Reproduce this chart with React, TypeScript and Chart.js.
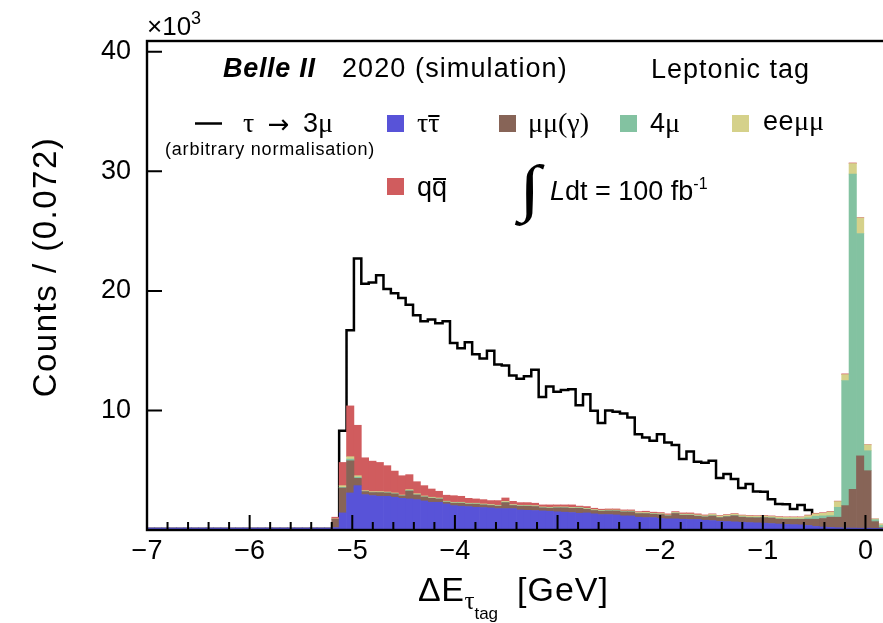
import React, { useEffect, useRef } from 'react';
import { Chart, registerables } from 'chart.js';

Chart.register(...registerables);

// ---------------- data ----------------
const X_MIN = -7;
const X_MAX = 0.2;
const BIN_WIDTH = 0.072;
const Y_MAX = 40.9;

const xMajorTicks = [-7, -6, -5, -4, -3, -2, -1, 0];
const yMajorTicks = [10, 20, 30, 40];

// tau tau-bar (blue)
const tauTau = [
  0.17, 0.17, 0.17, 0.17, 0.17, 0.17, 0.17, 0.17, 0.17, 0.17,
  0.17, 0.17, 0.17, 0.17, 0.17, 0.17, 0.17, 0.17, 0.17, 0.17,
  0.17, 0.17, 0.17, 0.17, 0.17, 0.2, 1.43, 3.1, 3.71, 2.96,
  2.88, 2.82, 2.82, 2.74, 2.65, 2.6, 2.54, 2.43, 2.32, 2.32,
  2.18, 2.04, 1.99, 1.96, 1.9, 1.88, 1.85, 1.79, 1.79, 1.79,
  1.68, 1.65, 1.63, 1.6, 1.57, 1.52, 1.49, 1.46, 1.4, 1.43,
  1.35, 1.29, 1.29, 1.26, 1.18, 1.18, 1.07, 1.04, 1.04, 0.96,
  0.93, 0.93, 0.9, 0.88, 0.88, 0.82, 0.79, 0.72, 0.71, 0.68,
  0.65, 0.62, 0.6, 0.57, 0.54, 0.5, 0.47, 0.45, 0.43, 0.38,
  0.3, 0.25, 0.22, 0.19, 0.17, 0.16, 0.15, 0.15, 0.14, 0.13,
];

// mu mu (gamma) (brown)
const mumuGamma = [
  0, 0, 0, 0, 0, 0, 0, 0, 0, 0,
  0, 0, 0, 0, 0, 0, 0, 0, 0, 0,
  0, 0, 0, 0, 0, 0.7, 2.08, 2.69, 0.61, 0.25,
  0.25, 0.31, 0.28, 0.28, 0.2, 0.66, 0.39, 0.33, 0.33, 0.27,
  0.15, 0.2, 0.25, 0.2, 0.26, 0.22, 0.2, 0.2, 0.5, 0.26,
  0.31, 0.34, 0.33, 0.25, 0.25, 0.33, 0.36, 0.35, 0.42, 0.3,
  0.28, 0.28, 0.3, 0.33, 0.33, 0.33, 0.3, 0.33, 0.28, 0.33,
  0.25, 0.45, 0.33, 0.35, 0.27, 0.27, 0.38, 0.31, 0.4, 0.51,
  0.42, 0.41, 0.42, 0.46, 0.46, 0.41, 0.42, 0.44, 0.46, 0.52,
  0.6, 0.71, 0.85, 0.88, 1.87, 3.24, 6.05, 4.81, 0.56, 0.07,
];

// 4 mu (green)
const fourMu = [
  0, 0, 0, 0, 0, 0, 0, 0, 0, 0,
  0, 0, 0, 0, 0, 0, 0, 0, 0, 0,
  0, 0, 0, 0, 0, 0, 0.06, 0.14, 0.1, 0.03,
  0.03, 0.03, 0.03, 0.03, 0.03, 0.04, 0.03, 0.03, 0.03, 0.03,
  0.03, 0.03, 0.03, 0.03, 0.03, 0.03, 0.03, 0.03, 0.03, 0.03,
  0.03, 0.03, 0.03, 0.03, 0.03, 0.03, 0.03, 0.03, 0.03, 0.03,
  0.03, 0.03, 0.03, 0.03, 0.03, 0.03, 0.03, 0.03, 0.03, 0.03,
  0.03, 0.03, 0.03, 0.03, 0.03, 0.03, 0.03, 0.03, 0.03, 0.03,
  0.03, 0.03, 0.03, 0.03, 0.03, 0.04, 0.04, 0.04, 0.04, 0.12,
  0.25, 0.22, 0.13, 0.83, 10.46, 26.37, 18.6, 1.67, 0.16, 0.17,
];

// ee mu mu (yellow)
const eemumu = [
  0, 0, 0, 0, 0, 0, 0, 0, 0, 0,
  0, 0, 0, 0, 0, 0, 0, 0, 0, 0,
  0, 0, 0, 0, 0, 0.03, 0.14, 0.2, 0.12, 0.05,
  0.05, 0.05, 0.05, 0.05, 0.05, 0.08, 0.08, 0.06, 0.06, 0.06,
  0.05, 0.05, 0.05, 0.05, 0.05, 0.05, 0.05, 0.05, 0.08, 0.05,
  0.05, 0.05, 0.05, 0.05, 0.05, 0.05, 0.05, 0.05, 0.05, 0.05,
  0.05, 0.05, 0.05, 0.05, 0.05, 0.05, 0.06, 0.07, 0.05, 0.05,
  0.05, 0.05, 0.07, 0.07, 0.08, 0.07, 0.1, 0.1, 0.1, 0.1,
  0.1, 0.1, 0.1, 0.1, 0.1, 0.12, 0.12, 0.12, 0.12, 0.18,
  0.2, 0.22, 0.3, 0.475, 0.5, 0.88, 1.3, 0.49, 0.06, 0.13,
];

// q q-bar (red)
const qqbar = [
  0, 0, 0, 0, 0, 0, 0, 0, 0, 0,
  0, 0, 0, 0, 0, 0, 0, 0, 0, 0,
  0, 0, 0, 0, 0, 0.14, 1.94, 4.25, 4.22, 2.75,
  2.55, 2.44, 2.2, 1.83, 1.61, 1.25, 1.0, 0.86, 0.69, 0.56,
  0.5, 0.55, 0.5, 0.41, 0.36, 0.36, 0.33, 0.39, 0.28, 0.27,
  0.22, 0.22, 0.2, 0.17, 0.2, 0.17, 0.17, 0.21, 0.1, 0.15,
  0.11, 0.09, 0.09, 0.09, 0.09, 0.09, 0.08, 0.1, 0.09, 0.09,
  0.09, 0.08, 0.1, 0.1, 0.09, 0.07, 0.05, 0.05, 0.05, 0.05,
  0.05, 0.05, 0.05, 0.05, 0.05, 0.05, 0.05, 0.05, 0.05, 0.05,
  0.05, 0.05, 0.05, 0.04, 0.06, 0.05, 0.03, 0.02, 0.01, 0,
];

// tau -> 3 mu signal (arbitrary normalisation)
const signalTau3Mu = [
  0, 0, 0, 0, 0, 0, 0, 0, 0, 0,
  0, 0, 0, 0, 0, 0, 0, 0, 0, 0,
  0, 0, 0, 0, 0, 0, 8.3, 16.7, 22.7, 20.6,
  20.7, 21.3, 20.15, 19.8, 19.4, 18.85, 17.96, 17.46, 17.6, 17.3,
  17.46, 15.65, 15.2, 15.7, 14.7, 14.35, 15.0, 13.85, 13.76, 12.93,
  12.65, 12.87, 13.4, 11.13, 12.0, 11.57, 11.7, 11.77, 10.43, 11.35,
  9.98, 8.95, 10.0, 9.9, 9.74, 9.4, 8.0, 7.74, 7.46, 8.0,
  7.32, 7.1, 5.93, 6.57, 5.71, 5.63, 5.79, 4.35, 4.68, 4.26,
  3.51, 3.85, 3.23, 3.2, 2.57, 2.18, 2.15, 1.76, 2.1, 1.68,
  1.2, 0, 0, 0, 0, 0, 0, 0, 0, 0,
];

const binLabels = tauTau.map((_, i) => (X_MIN + BIN_WIDTH * (i + 0.5)).toFixed(3));
const signalPoints = signalTau3Mu
  .map((y, i) => ({ x: X_MIN + BIN_WIDTH * i, y }))
  .concat([{ x: X_MAX, y: signalTau3Mu[signalTau3Mu.length - 1] }]);

// ---------------- style ----------------
const SANS = '"Liberation Sans", Arial, Helvetica, sans-serif';
const SERIF = '"Liberation Serif", "Times New Roman", serif';
const ARROW = '"DejaVu Sans", sans-serif';
const C_BLUE = '#5853d8';
const C_BROWN = '#876457';
const C_GREEN = '#83c2a1';
const C_YELLOW = '#d5d18a';
const C_RED = '#d05c5e';

type Run = { text: string; font: string; ls?: number; dy?: number; bar?: [number, number, number] };

function drawRuns(ctx: CanvasRenderingContext2D, x: number, y: number, runs: Run[]) {
  let cx = x;
  for (const r of runs) {
    ctx.font = r.font;
    (ctx as any).letterSpacing = `${r.ls ?? 0}px`;
    const w = ctx.measureText(r.text).width;
    ctx.fillText(r.text, cx, y + (r.dy ?? 0));
    if (r.bar) {
      const [inset, top, h] = r.bar;
      ctx.fillRect(cx + inset, top, w - 2 * inset - (r.ls ?? 0), h);
    }
    cx += w;
  }
  (ctx as any).letterSpacing = '0px';
  return cx;
}

const decorPlugin = {
  id: 'decor',
  afterDatasetsDraw(chart: any) {
    const { ctx, chartArea: a, scales } = chart;
    const xs = scales.xl;
    const ys = scales.y;
    ctx.save();
    ctx.strokeStyle = '#000';
    ctx.lineWidth = 2;
    ctx.beginPath();
    const nMinor = Math.round((X_MAX - X_MIN) / 0.2);
    for (let j = 0; j <= nMinor; j++) {
      const v = X_MIN + j * 0.2;
      const major = xMajorTicks.some((t) => Math.abs(t - v) < 1e-6);
      const px = xs.getPixelForValue(v);
      ctx.moveTo(px, a.bottom);
      ctx.lineTo(px, a.bottom - (major ? 15 : 8));
    }
    for (const v of yMajorTicks) {
      const py = ys.getPixelForValue(v);
      ctx.moveTo(a.left, py);
      ctx.lineTo(a.left + 15, py);
    }
    ctx.stroke();
    ctx.lineWidth = 2.4;
    ctx.strokeRect(a.left, a.top, a.right - a.left, a.bottom - a.top);
    ctx.restore();
  },
  afterDraw(chart: any) {
    const { ctx } = chart;
    ctx.save();
    ctx.fillStyle = '#000';
    ctx.textAlign = 'left';
    ctx.textBaseline = 'alphabetic';

    // exponent label
    drawRuns(ctx, 147, 35, [
      { text: '×10', font: `26px ${SANS}` },
      { text: '3', font: `18px ${SANS}`, dy: -11 },
    ]);

    // header
    drawRuns(ctx, 223, 77, [{ text: 'Belle II', font: `italic bold 27px ${SANS}`, ls: 0.7 }]);
    drawRuns(ctx, 342, 77, [{ text: '2020 (simulation)', font: `27px ${SANS}`, ls: 1.1 }]);
    drawRuns(ctx, 651, 78, [{ text: 'Leptonic tag', font: `27px ${SANS}`, ls: 1 }]);

    // signal legend
    ctx.strokeStyle = '#000';
    ctx.lineWidth = 2.5;
    ctx.beginPath();
    ctx.moveTo(195, 123.5);
    ctx.lineTo(222, 123.5);
    ctx.stroke();
    drawRuns(ctx, 243, 131.5, [
      { text: 'τ', font: `28px ${SERIF}` },
      { text: ' ', font: `27px ${SANS}`, ls: 6 },
      { text: '→', font: `26px ${ARROW}`, dy: 1 },
      { text: ' ', font: `27px ${SANS}`, ls: 6 },
      { text: '3', font: `27px ${SANS}` },
      { text: 'μ', font: `28px ${SERIF}` },
    ]);
    drawRuns(ctx, 165, 155, [{ text: '(arbitrary normalisation)', font: `18px ${SANS}`, ls: 0.8 }]);

    // background legend boxes
    const boxes: [number, number, string][] = [
      [387, 115, C_BLUE],
      [499, 115, C_BROWN],
      [620, 115, C_GREEN],
      [732, 115, C_YELLOW],
      [387, 178, C_RED],
    ];
    for (const [bx, by, c] of boxes) {
      ctx.fillStyle = c;
      ctx.fillRect(bx, by, 17, 17);
    }
    ctx.fillStyle = '#000';
    drawRuns(ctx, 417, 131.5, [
      { text: 'τ', font: `28px ${SERIF}` },
      { text: 'τ', font: `28px ${SERIF}`, bar: [0, 115, 2] },
    ]);
    drawRuns(ctx, 528, 131.5, [{ text: 'μμ(γ)', font: `28px ${SERIF}` }]);
    drawRuns(ctx, 650, 131.5, [
      { text: '4', font: `27px ${SANS}` },
      { text: 'μ', font: `28px ${SERIF}` },
    ]);
    drawRuns(ctx, 763, 130, [
      { text: 'ee', font: `27px ${SANS}`, ls: 0.5 },
      { text: 'μμ', font: `28px ${SERIF}` },
    ]);
    drawRuns(ctx, 417, 196, [
      { text: 'q', font: `27px ${SANS}` },
      { text: 'q', font: `27px ${SANS}`, bar: [1, 178, 2] },
    ]);

    // luminosity: integral sign (stretched horizontally)
    ctx.save();
    ctx.translate(519, 209);
    ctx.scale(1.25, 1);
    ctx.font = `bold 63px ${SERIF}`;
    ctx.fillText('∫', 0, 0);
    ctx.restore();
    drawRuns(ctx, 550, 199.5, [
      { text: 'L', font: `italic 27px ${SANS}` },
      { text: 'dt = 100 fb', font: `27px ${SANS}` },
      { text: '-1', font: `16px ${SANS}`, dy: -11 },
    ]);

    // x-axis title
    drawRuns(ctx, 418, 601, [
      { text: 'ΔE', font: `34px ${SANS}`, ls: 0.5 },
      { text: 'τ', font: `25px ${SERIF}`, dy: 8 },
      { text: 'tag', font: `17px ${SANS}`, dy: 18 },
    ]);
    drawRuns(ctx, 517, 601, [{ text: '[GeV]', font: `34px ${SANS}`, ls: 1 }]);

    // y-axis title
    ctx.save();
    ctx.translate(56, 267);
    ctx.rotate(-Math.PI / 2);
    ctx.textAlign = 'center';
    ctx.font = `33px ${SANS}`;
    (ctx as any).letterSpacing = '1.5px';
    ctx.fillText('Counts / (0.072)', 0, 0);
    (ctx as any).letterSpacing = '0px';
    ctx.restore();

    ctx.restore();
  },
};

function makeBar(label: string, data: number[], color: string) {
  return {
    type: 'bar' as const,
    label,
    data,
    backgroundColor: color,
    borderWidth: 0,
    barPercentage: 1,
    categoryPercentage: 1,
    grouped: false,
    stack: 'bg',
    order: 0,
    xAxisID: 'x',
    yAxisID: 'y',
  };
}

export default function App() {
  const ref = useRef<HTMLCanvasElement>(null);

  useEffect(() => {
    const canvas = ref.current;
    if (!canvas) return;
    const chart = new Chart(canvas, {
      type: 'bar',
      data: {
        labels: binLabels,
        datasets: [
          {
            type: 'line',
            label: 'τ → 3μ',
            data: signalPoints as any,
            xAxisID: 'xl',
            yAxisID: 'y',
            stack: 'sig',
            order: 1,
            borderColor: '#000',
            borderWidth: 2.5,
            pointRadius: 0,
            stepped: 'before',
            fill: false,
          } as any,
          makeBar('ττ', tauTau, C_BLUE),
          makeBar('μμ(γ)', mumuGamma, C_BROWN),
          makeBar('4μ', fourMu, C_GREEN),
          makeBar('eeμμ', eemumu, C_YELLOW),
          makeBar('qq', qqbar, C_RED),
        ],
      },
      options: {
        animation: false,
        responsive: false,
        maintainAspectRatio: false,
        datasets: { bar: { barPercentage: 1, categoryPercentage: 1, grouped: false } },
        layout: { padding: { top: 41, right: 14, bottom: 0, left: 0 } },
        plugins: { legend: { display: false }, tooltip: { enabled: false } },
        scales: {
          x: {
            type: 'category',
            display: false,
            stacked: true,
            offset: true,
          },
          xl: {
            type: 'linear',
            position: 'bottom',
            offset: false,
            min: X_MIN,
            max: X_MAX,
            grid: { display: false, drawTicks: false, offset: false },
            border: { display: false },
            afterBuildTicks: (s: any) => {
              s.ticks = xMajorTicks.map((value) => ({ value }));
            },
            afterFit: (s: any) => {
              s.height = 93;
            },
            ticks: {
              autoSkip: false,
              maxRotation: 0,
              padding: 5,
              color: '#000',
              font: { family: SANS, size: 27 },
              callback: (v: any) => (Number(v) < 0 ? '\u2212' + Math.abs(Number(v)) : String(v)),
            },
          },
          y: {
            type: 'linear',
            stacked: true,
            min: 0,
            max: Y_MAX,
            grid: { display: false, drawTicks: false },
            border: { display: false },
            afterBuildTicks: (s: any) => {
              s.ticks = yMajorTicks.map((value) => ({ value }));
            },
            afterFit: (s: any) => {
              s.width = 147;
            },
            ticks: {
              padding: 16,
              color: '#000',
              font: { family: SANS, size: 27 },
              callback: (v: any) => String(v),
            },
          },
        } as any,
      } as any,
      plugins: [decorPlugin],
    });
    return () => chart.destroy();
  }, []);

  return (
    <div
      style={{
        position: 'fixed',
        left: 0,
        top: 0,
        width: 883,
        height: 623,
        overflow: 'hidden',
        background: '#fff',
      }}
    >
      <canvas ref={ref} width={900} height={623} style={{ display: 'block', width: 900, height: 623 }} />
    </div>
  );
}
